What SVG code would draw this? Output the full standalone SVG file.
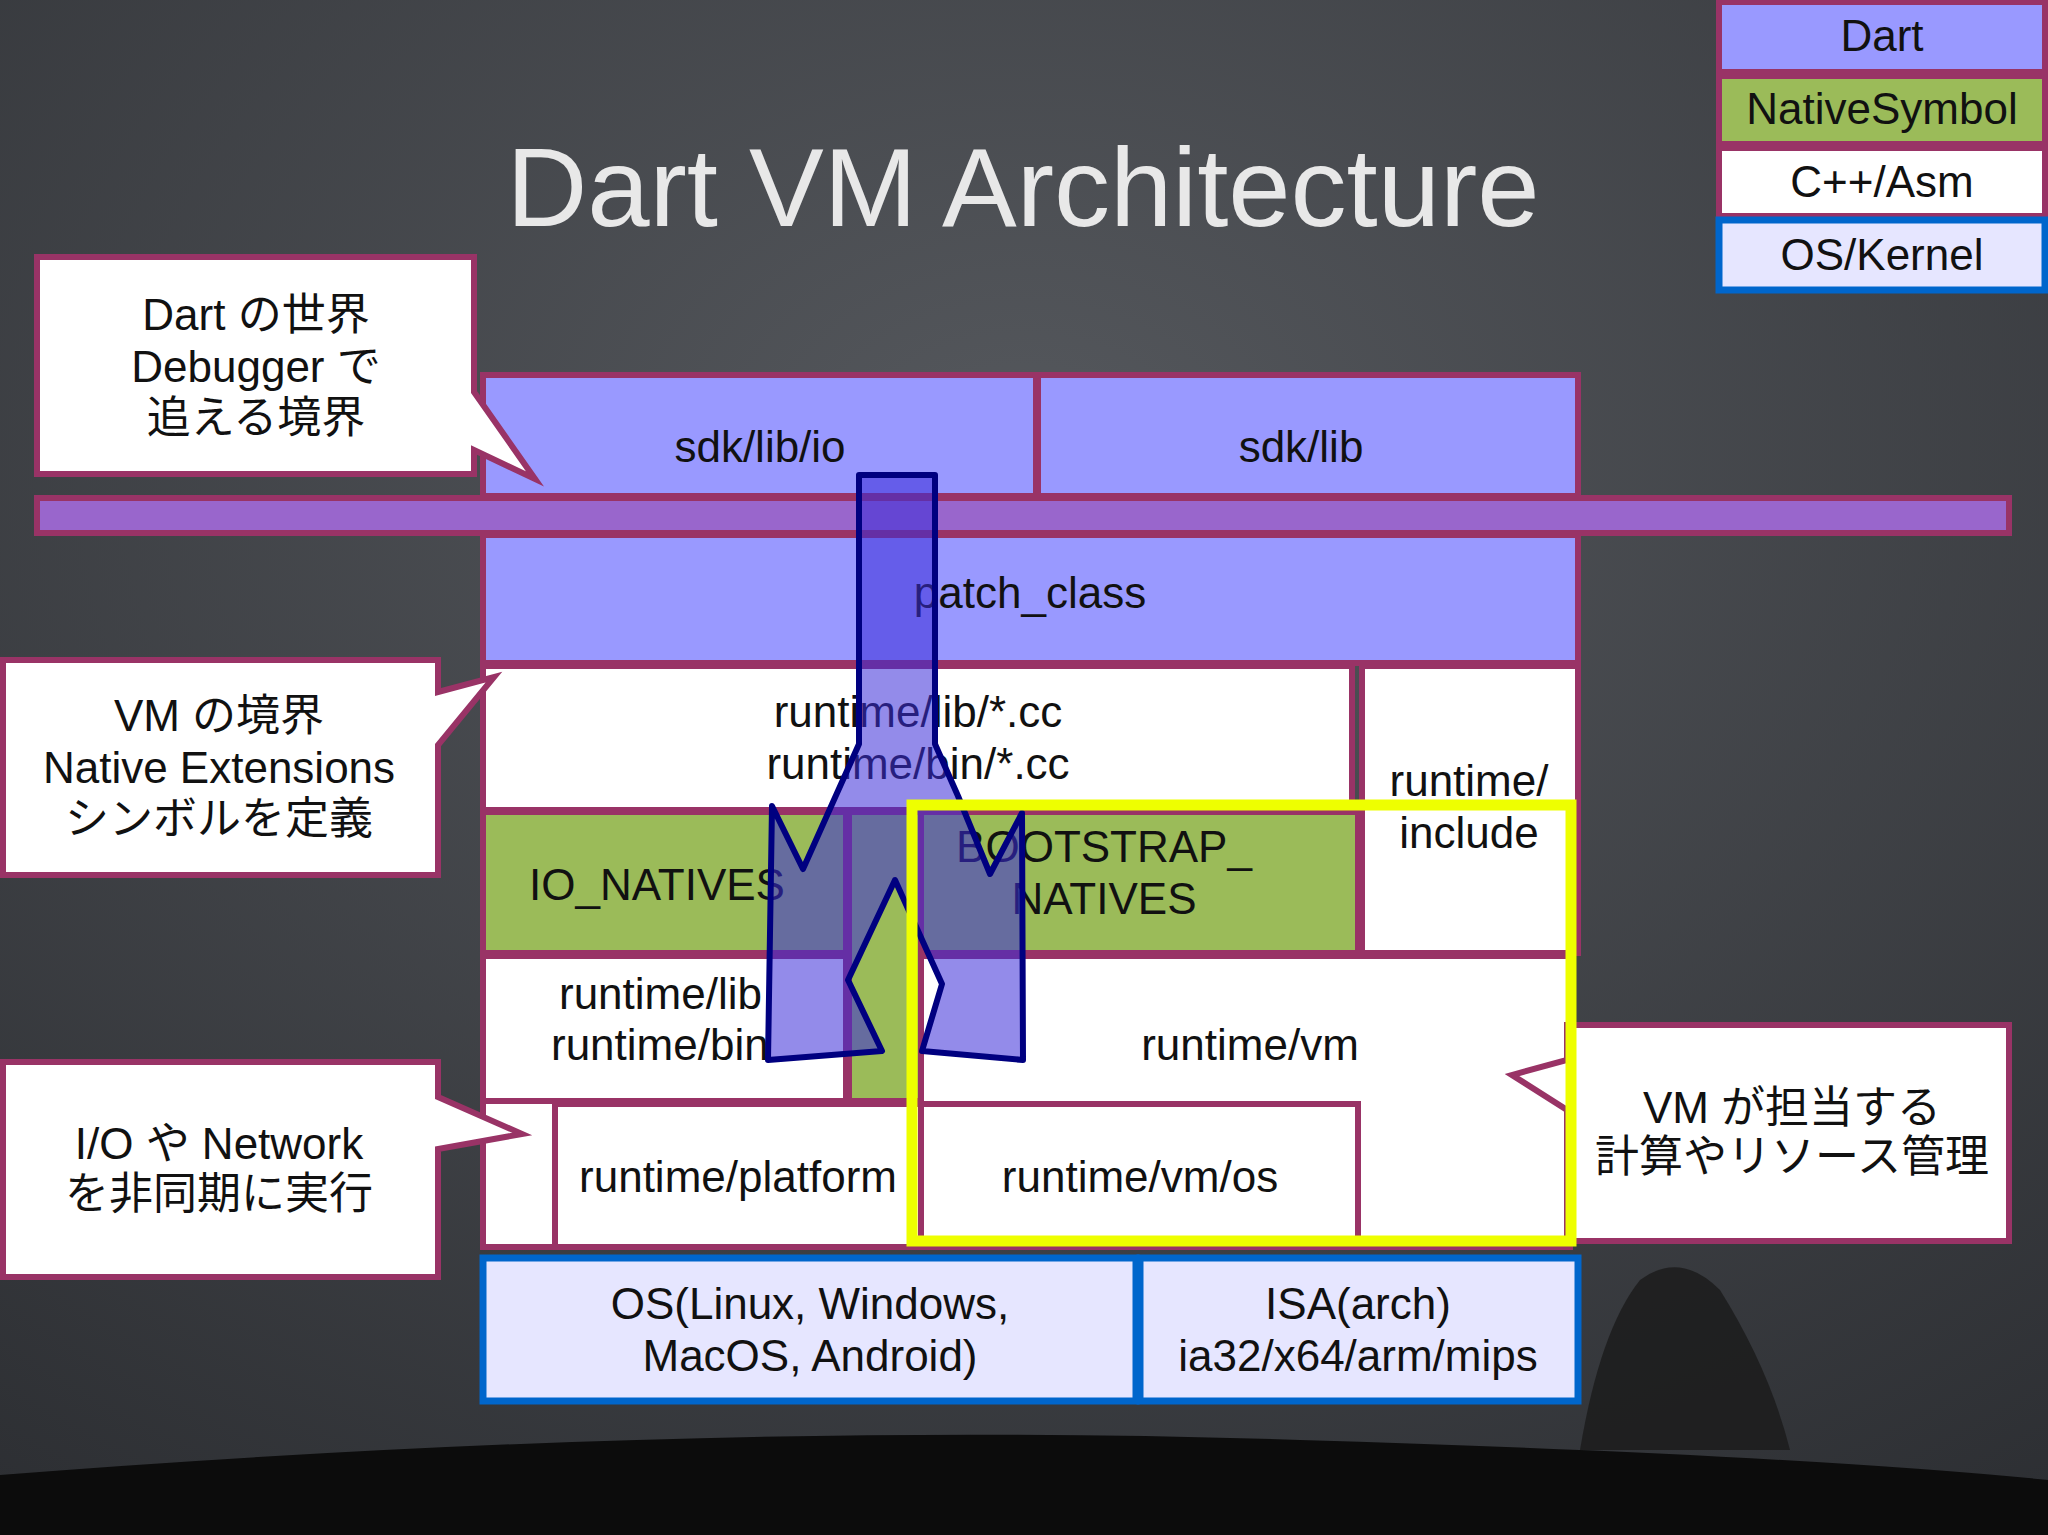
<svg xmlns="http://www.w3.org/2000/svg" width="2048" height="1535" viewBox="0 0 2048 1535">
<defs>
<radialGradient id="bg" cx="0.5" cy="0.3" r="0.9">
<stop offset="0" stop-color="#55585d"/><stop offset="1" stop-color="#2a2c30"/>
</radialGradient>
<style>
.t{font-family:"Liberation Sans","Noto Sans CJK JP",sans-serif;font-size:44px;fill:#111;text-anchor:middle}
.l{text-anchor:start}
.b{stroke:#993366;stroke-width:6}
.dart{fill:#9999ff}
.nat{fill:#9bbb59}
.cpp{fill:#ffffff}
.os{fill:#e6e6ff;stroke:#0066cc;stroke-width:7}
.co{fill:#fff;stroke:#993366;stroke-width:6}
</style>
</defs>
<rect width="2048" height="1535" fill="url(#bg)"/>
<path d="M0,1475 Q700,1420 1300,1440 Q1800,1455 2048,1480 L2048,1535 L0,1535 Z" fill="#0c0c0c"/>
<path d="M1580,1450 Q1600,1330 1640,1280 Q1680,1250 1720,1290 Q1770,1370 1790,1450 Z" fill="#1a1a1a" opacity="0.8"/>
<text x="1023" y="226" style="font-family:'Liberation Sans',sans-serif;font-size:112px;fill:#e8e8e8;text-anchor:middle">Dart VM Architecture</text>

<g id="legend">
<rect x="1719" y="2" width="326" height="70" class="dart b"/>
<text x="1882" y="51" class="t">Dart</text>
<rect x="1719" y="76" width="326" height="68" class="nat b"/>
<text x="1882" y="124" class="t">NativeSymbol</text>
<rect x="1719" y="148" width="326" height="68" class="cpp b"/>
<text x="1882" y="197" class="t">C++/Asm</text>
<rect x="1719" y="220" width="326" height="70" class="os"/>
<text x="1882" y="270" class="t">OS/Kernel</text>
</g>

<g id="sdk-lib-io"><rect x="483" y="375" width="553" height="121" class="dart b"/><text x="760" y="462" class="t">sdk/lib/io</text></g>
<g id="sdk-lib"><rect x="1038" y="375" width="540" height="121" class="dart b"/><text x="1301" y="462" class="t">sdk/lib</text></g>
<g id="boundary-bar"><rect x="37" y="498" width="1972" height="35" fill="#9966cc" class="b"/></g>
<g id="patch-class"><rect x="483" y="535" width="1095" height="128" class="dart b"/><text x="1030" y="608" class="t">patch_class</text></g>
<g id="runtime-cc"><rect x="483" y="666" width="869" height="144" class="cpp b"/><text x="918" y="727" class="t">runtime/lib/*.cc</text><text x="918" y="779" class="t">runtime/bin/*.cc</text></g>
<g id="runtime-include"><rect x="1362" y="666" width="216" height="287" class="cpp b"/><text x="1469" y="796" class="t">runtime/</text><text x="1469" y="848" class="t">include</text></g>
<g id="lower-area"><rect x="483" y="956" width="1087" height="291" class="cpp b"/></g>
<g id="io-natives"><rect x="483" y="812" width="363" height="141" class="nat b"/><text x="529" y="900" class="t l">IO_NATIVES</text></g>
<g id="native-column"><rect x="849" y="812" width="72" height="289" class="nat b"/></g>
<g id="bootstrap-natives"><rect x="921" y="812" width="437" height="141" class="nat b"/><text x="1104" y="862" class="t">BOOTSTRAP_</text><text x="1104" y="914" class="t">NATIVES</text></g>
<g id="runtime-lib-bin"><rect x="483" y="956" width="363" height="145" class="cpp b"/><text x="559" y="1009" class="t l">runtime/lib</text><text x="551" y="1060" class="t l">runtime/bin</text></g>
<g id="runtime-vm"><rect x="921" y="956" width="649" height="291" class="cpp b"/><text x="1250" y="1060" class="t">runtime/vm</text></g>
<g id="runtime-platform"><rect x="555" y="1104" width="366" height="143" class="cpp b"/><text x="738" y="1192" class="t">runtime/platform</text></g>
<g id="runtime-vm-os"><rect x="921" y="1104" width="437" height="143" class="cpp b"/><text x="1140" y="1192" class="t">runtime/vm/os</text></g>
<g id="os"><rect x="483" y="1258" width="653" height="143" class="os"/><text x="810" y="1319" class="t">OS(Linux, Windows,</text><text x="810" y="1371" class="t">MacOS,  Android)</text></g>
<g id="isa"><rect x="1140" y="1258" width="438" height="143" class="os"/><text x="1358" y="1319" class="t">ISA(arch)</text><text x="1358" y="1371" class="t">ia32/x64/arm/mips</text></g>

<g id="callout-dart"><path d="M37,257 H474 V392 L535,479 L474,450 V474 H37 Z" class="co"/><text x="256" y="330" class="t">Dart の世界</text><text x="256" y="382" class="t">Debugger で</text><text x="256" y="433" class="t">追える境界</text></g>
<g id="callout-vm"><path d="M3,660 H438 V692 L494,677 L438,745 V875 H3 Z" class="co"/><text x="219" y="731" class="t">VM の境界</text><text x="219" y="783" class="t">Native Extensions</text><text x="219" y="834" class="t">シンボルを定義</text></g>
<g id="callout-io"><path d="M3,1062 H438 V1097 L522,1134 L438,1149 V1277 H3 Z" class="co"/><text x="219" y="1159" class="t">I/O や Network</text><text x="219" y="1209" class="t">を非同期に実行</text></g>
<g id="callout-res"><path d="M1567,1025 H2009 V1241 H1567 V1110 L1512,1075 L1567,1060 Z" class="co"/><text x="1792" y="1123" class="t">VM が担当する</text><text x="1792" y="1172" class="t">計算やリソース管理</text></g>

<g id="connectors">
<path d="M859,475 H935 V744 L958,796 L990,874 L1022,813 L1023,1060 L922,1051 L942,984 L895,880 L848,980 L882,1051 L768,1060 L772,806 L803,869 L859,744 Z" fill="#3a2bd8" fill-opacity="0.55" stroke="#000080" stroke-width="6" stroke-linejoin="round"/>
</g>
<g id="highlight"><rect x="912" y="805" width="659" height="436" fill="none" stroke="#eeff00" stroke-width="11"/></g>
</svg>
